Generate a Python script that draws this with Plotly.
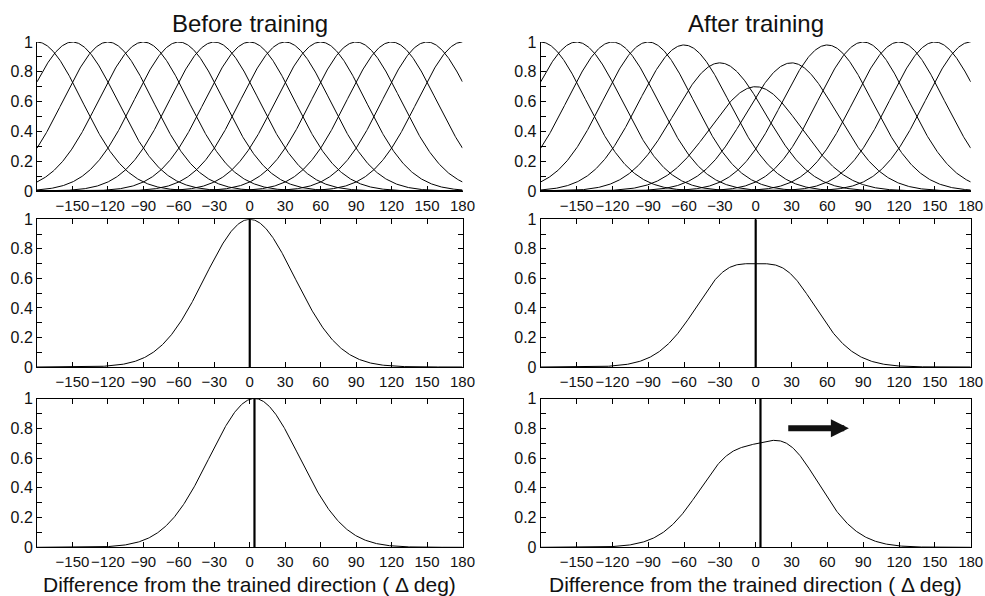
import numpy as np
import plotly.graph_objects as go

# ---------------- data ----------------
preferred_dirs = [-180, -150, -120, -90, -60, -30, 0, 30, 60, 90, 120, 150, 180]
gain_before = [1.0, 1.0, 1.0, 1.0, 1.0, 1.0, 1.0, 1.0, 1.0, 1.0, 1.0, 1.0, 1.0]
gain_after = [1.0, 1.0, 1.0, 1.0, 0.98, 0.86, 0.70, 0.86, 0.98, 1.0, 1.0, 1.0, 1.0]
tuning_sd = 38.0            # width of each tuning curve (deg)
gain_dip_depth = 0.30       # depth of gain reduction at trained direction
gain_dip_sd = 25.0          # width of gain reduction (deg)
stim_row2 = 0.0             # stimulus direction, middle row
stim_row3 = 4.0             # stimulus direction, bottom row
x_tick_vals = [-150, -120, -90, -60, -30, 0, 30, 60, 90, 120, 150, 180]
y_tick_vals = [0, 0.2, 0.4, 0.6, 0.8, 1]
col_titles = ["Before training", "After training"]
x_title = "Difference from the trained direction ( \u0394 deg)"
theta = np.arange(-180, 180.5, 0.5)


def tuning(center, gain):
    return gain * np.exp(-(theta - center) ** 2 / (2 * tuning_sd ** 2))


def gain_fn(after):
    if not after:
        return np.ones_like(theta)
    return 1 - gain_dip_depth * np.exp(-theta ** 2 / (2 * gain_dip_sd ** 2))


def population(stim, after):
    return gain_fn(after) * np.exp(-(theta - stim) ** 2 / (2 * tuning_sd ** 2))


# ---------------- layout geometry ----------------
W, H = 985, 596
xdom = [[37 / W, 462.5 / W], [540.7 / W, 970.7 / W]]
ydom = [[1 - 191 / H, 1 - 42 / H], [1 - 367 / H, 1 - 219.3 / H], [1 - 547.3 / H, 1 - 398.5 / H]]

FONT = "Liberation Sans, Arial, Helvetica, sans-serif"
fig = go.Figure()
layout = dict(template="none", width=W, height=H, autosize=False,
              margin=dict(l=0, r=0, t=0, b=0, pad=0),
              paper_bgcolor="white", plot_bgcolor="white", showlegend=False,
              font=dict(family=FONT, size=16, color="black"))

idx = 0
annotations = []
for row in range(3):
    for col in range(2):
        idx += 1
        xa = "x" if idx == 1 else f"x{idx}"
        ya = "y" if idx == 1 else f"y{idx}"
        after = col == 1
        if row == 0:
            gains = gain_after if after else gain_before
            for c, g in zip(preferred_dirs, gains):
                fig.add_trace(go.Scatter(x=theta, y=tuning(c, g), mode="lines",
                                         line=dict(color="black", width=1),
                                         xaxis=xa, yaxis=ya, hoverinfo="skip"))
        else:
            stim = stim_row2 if row == 1 else stim_row3
            fig.add_trace(go.Scatter(x=theta, y=population(stim, after), mode="lines",
                                     line=dict(color="black", width=1),
                                     xaxis=xa, yaxis=ya, hoverinfo="skip"))
            fig.add_trace(go.Scatter(x=[stim, stim], y=[0, 1], mode="lines",
                                     line=dict(color="black", width=2.2),
                                     xaxis=xa, yaxis=ya, hoverinfo="skip"))
        mirror = "ticks" if row > 0 else False
        layout["xaxis" if idx == 1 else f"xaxis{idx}"] = dict(
            domain=xdom[col], range=[-180, 180], anchor=ya, automargin=False,
            tickvals=x_tick_vals, tickangle=0, ticks="inside", ticklen=5, tickcolor="black",
            ticklabelstandoff=1,
            showline=True, linecolor="black", linewidth=1, mirror=mirror,
            showgrid=False, zeroline=False,
            tickfont=dict(size=15, color="#111"))
        layout["yaxis" if idx == 1 else f"yaxis{idx}"] = dict(
            domain=ydom[row], range=[0, 1], anchor=xa, automargin=False,
            tickvals=y_tick_vals, ticks="inside", ticklen=5, tickcolor="black",
            minor=dict(dtick=0.1, ticks="inside", ticklen=5, tickcolor="black", showgrid=False),
            showline=True, linecolor="black", linewidth=1, mirror=mirror,
            showgrid=False, zeroline=False,
            tickfont=dict(size=16, color="#111"))

for col in range(2):
    cx = (xdom[col][0] + xdom[col][1]) / 2
    annotations.append(dict(text=col_titles[col], x=cx, y=1 - 23 / H, xref="paper", yref="paper",
                            showarrow=False, xanchor="center", yanchor="middle",
                            font=dict(size=24, color="#111")))
    annotations.append(dict(text=x_title, x=cx, y=1 - 584 / H, xref="paper", yref="paper",
                            showarrow=False, xanchor="center", yanchor="middle",
                            font=dict(size=21, color="#111")))

annotations.append(dict(text="", x=78, y=0.8, ax=26, ay=0.8, xref="x6", yref="y6",
                        axref="x6", ayref="y6", showarrow=True, arrowhead=2,
                        arrowwidth=6, arrowsize=0.6, arrowcolor="#111"))
layout["annotations"] = annotations
fig.update_layout(**layout)
fig.write_html("out.html", config={"displayModeBar": False},
               post_script="document.body.style.margin='0';document.body.style.overflow='hidden';")
